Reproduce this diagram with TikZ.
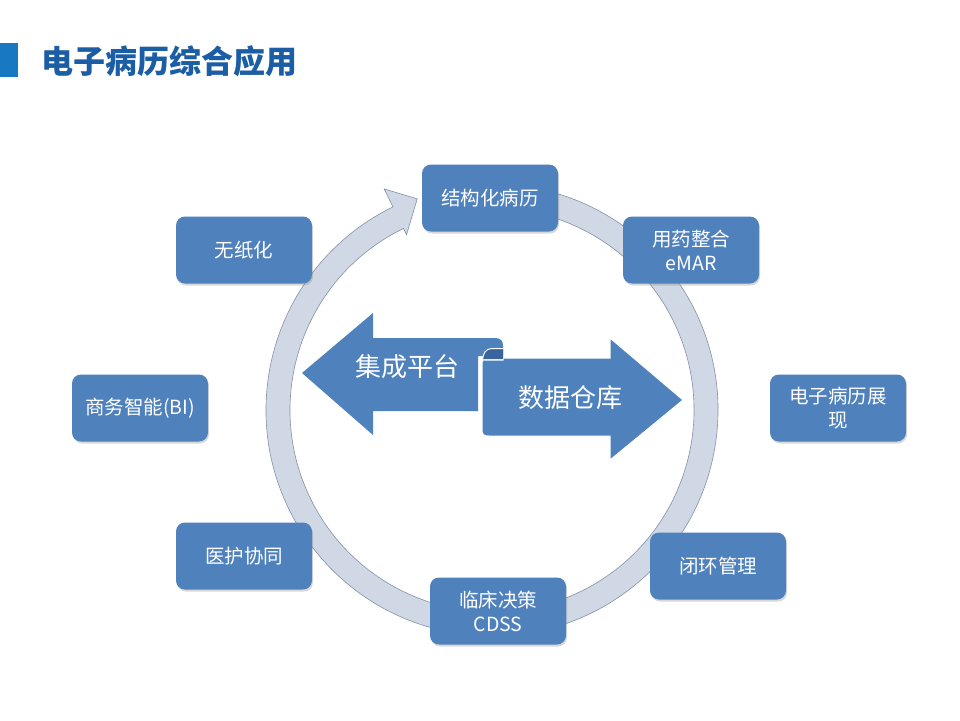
\documentclass[tikz,border=0pt]{standalone}
\usepackage{fontspec}
\setmainfont{Noto Sans CJK SC}
\usetikzlibrary{shadows}
\definecolor{boxblue}{HTML}{4F81BD}
\definecolor{ringfill}{HTML}{D0D8E6}
\definecolor{ringline}{HTML}{8591A5}
\definecolor{titleblue}{HTML}{1B5EA6}
\definecolor{squareblue}{HTML}{1878C2}
\definecolor{folddark}{HTML}{3A649E}
\begin{document}
\begin{tikzpicture}[x=1pt,y=-1pt,
  card/.style={rounded corners=9pt, fill=boxblue, minimum width=136pt, minimum height=67pt,
    text=white, font=\fontsize{19.5}{24}\selectfont, align=center, inner sep=2pt,
    drop shadow={opacity=0.3, shadow xshift=1pt, shadow yshift=-2pt}},
  ringstyle/.style={fill=ringfill, draw=ringline, line width=0.6pt},
  bigarrow/.style={fill=boxblue},
  bigtext/.style={text=white, font=\fontsize{26}{30}\selectfont, inner sep=0pt},
  titletext/.style={text=titleblue, font=\fontsize{32}{35}\selectfont\bfseries, anchor=west, inner sep=0pt}
]
\useasboundingbox (0,0) rectangle (960,720);
\fill[white] (0,0) rectangle (960,720);

% title
\fill[squareblue] (0,43) rectangle (18,77);
\node[titletext] (title) at (41,61) {电子病历综合应用};

% ring arrow
\coordinate (C) at (492,410);
\draw[ringstyle] ([shift={(-80:226)}]C) arc[start angle=-80, end angle=244, radius=226]
  -- ([shift={(244:246)}]C) -- ([shift={(250.5:224)}]C) -- ([shift={(244:195)}]C)
  -- ([shift={(244:202)}]C) arc[start angle=244, end angle=-80, radius=202] -- cycle;

% central scroll arrows
\path[bigarrow] (302,373) -- (373,313) -- (373,338) -- (495,338)
  .. controls (501,338) and (503,341) .. (503,346) -- (503,356) -- (478,356)
  -- (478,411) -- (373,411) -- (373,435) -- cycle;
\path[bigarrow, draw=white, line width=1pt] (482,360) -- (482,430)
  .. controls (482,435) and (484,436) .. (489,436) -- (610,436) -- (610,460)
  -- (683,400) -- (610,338) -- (610,358) -- (503,358) -- (503,360) -- cycle;
\fill[folddark] (483,360) .. controls (483,353) and (486,349) .. (492,349) -- (503,349) -- (503,359) -- (483,359) -- cycle;
\draw[white, line width=1pt] (482.5,362) .. controls (482.5,353) and (486,348.5) .. (492,348.5) -- (503,348.5);
\node[bigtext] (jc) at (407,367) {集成平台};
\node[bigtext] (sj) at (570,398) {数据仓库};

% boxes
\node[card] (jg) at (490,198) {结构化病历};
\node[card] (yy) at (691,250) {用药整合\\eMAR};
\node[card] (zx) at (838,408) {电子病历展\\现};
\node[card] (bh) at (718,566) {闭环管理};
\node[card] (lc) at (498,611) {临床决策\\CDSS};
\node[card] (yh) at (244,556) {医护协同};
\node[card] (sw) at (140,408) {商务智能(BI)};
\node[card] (wz) at (244,250) {无纸化};
\end{tikzpicture}
\end{document}
